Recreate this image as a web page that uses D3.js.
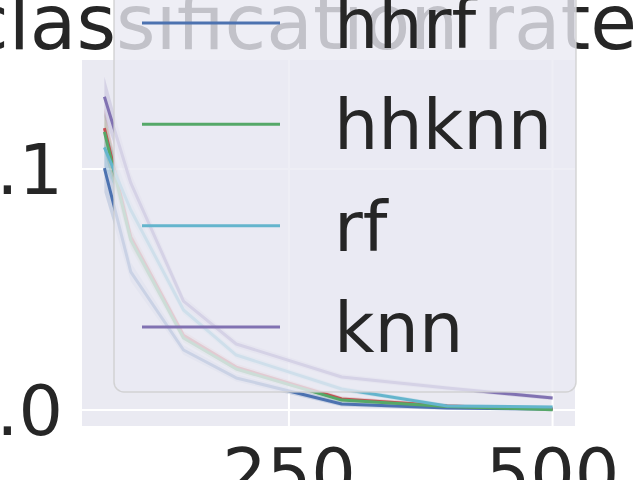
<!DOCTYPE html>
<html>
<head>
<meta charset="utf-8">
<script src="https://cdn.jsdelivr.net/npm/d3@7"></script>
<style>
  html, body { margin: 0; padding: 0; background: #ffffff; }
  svg { display: block; font-family: "DejaVu Sans", sans-serif; }
</style>
</head>
<body>
<svg id="chart" width="640" height="480"></svg>
<script>
// ---- data ----
const xValues = [75, 100, 150, 200, 300, 400, 500];
const hhrfValues  = [0.1004, 0.0573, 0.0249, 0.0133, 0.0025, 0.0008, 0.0004];
const otherValues = [0.1170, 0.0718, 0.0310, 0.0178, 0.0046, 0.0017, 0.0004];
const hhknnValues = [0.1154, 0.0705, 0.0299, 0.0170, 0.0041, 0.0015, 0.0001];
const rfValues    = [0.1090, 0.0830, 0.0415, 0.0228, 0.0087, 0.0017, 0.0012];
const knnValues   = [0.1300, 0.0942, 0.0452, 0.0274, 0.0137, 0.0091, 0.0050];
// half-widths of the shaded error bands
const hhrfErr  = [0.0100, 0.0040, 0.0020, 0.0015, 0.0010, 0.0008, 0.0006];
const otherErr = [0.0080, 0.0035, 0.0018, 0.0014, 0.0010, 0.0008, 0.0006];
const hhknnErr = [0.0080, 0.0035, 0.0018, 0.0014, 0.0010, 0.0008, 0.0006];
const rfErr    = [0.0080, 0.0035, 0.0018, 0.0014, 0.0010, 0.0008, 0.0006];
const knnErr   = [0.0083, 0.0040, 0.0020, 0.0015, 0.0012, 0.0010, 0.0008];
const seriesLabels = ["hhrf", null, "hhknn", "rf", "knn"];
const seriesColors = ["#4C72B0", "#C44E52", "#55A868", "#64B5CD", "#8172B2"];
const xTicks = [250, 500];
const yTicks = [0.0, 0.1];
const titleText = "classification rate";

const seriesValues = [hhrfValues, otherValues, hhknnValues, rfValues, knnValues];
const seriesErr = [hhrfErr, otherErr, hhknnErr, rfErr, knnErr];
const series = seriesLabels.map((label, i) => ({
  label, color: seriesColors[i],
  points: xValues.map((x, j) => ({ x, y: seriesValues[i][j], e: seriesErr[i][j] }))
}));

// ---- layout ----
const svg = d3.select("#chart");
const plot = { left: 82, right: 575, top: 60, bottom: 426 };
const FS = 70;
const TITLE_FS = 76;
const textColor = "#262626";

const x = d3.scaleLinear().domain([53.75, 521.25]).range([plot.left, plot.right]);
const y = d3.scaleLinear().domain([-0.00664, 0.14523]).range([plot.bottom, plot.top]);

// axes background
svg.append("rect")
  .attr("x", plot.left).attr("y", plot.top)
  .attr("width", plot.right - plot.left).attr("height", plot.bottom - plot.top)
  .attr("fill", "#EAEAF2");

svg.append("clipPath").attr("id", "plotclip").append("rect")
  .attr("x", plot.left).attr("y", plot.top)
  .attr("width", plot.right - plot.left).attr("height", plot.bottom - plot.top);

// grid
const grid = svg.append("g");
grid.selectAll("line.gx").data(xTicks).join("line")
  .attr("x1", d => x(d)).attr("x2", d => x(d))
  .attr("y1", plot.top).attr("y2", plot.bottom)
  .attr("stroke", "#ffffff").attr("stroke-width", 2);
grid.selectAll("line.gy").data(yTicks).join("line")
  .attr("x1", plot.left).attr("x2", plot.right)
  .attr("y1", d => y(d)).attr("y2", d => y(d))
  .attr("stroke", "#ffffff").attr("stroke-width", 2);

// bands and lines
const gData = svg.append("g").attr("clip-path", "url(#plotclip)");
const area = d3.area().x(d => x(d.x)).y0(d => y(d.y - d.e)).y1(d => y(d.y + d.e));
const line = d3.line().x(d => x(d.x)).y(d => y(d.y));
series.forEach(s => {
  gData.append("path").attr("d", area(s.points))
    .attr("fill", s.color).attr("fill-opacity", 0.2).attr("stroke", "none");
});
series.forEach(s => {
  gData.append("path").attr("d", line(s.points))
    .attr("fill", "none").attr("stroke", s.color).attr("stroke-width", 3)
    .attr("stroke-linejoin", "round").attr("stroke-linecap", "butt");
});

// tick labels
svg.append("g").selectAll("text").data(yTicks).join("text")
  .attr("x", 63).attr("y", d => y(d))
  .attr("dy", "0.36em")
  .attr("text-anchor", "end")
  .attr("font-size", FS).attr("fill", textColor)
  .text(d => d3.format(".1f")(d));
svg.append("g").selectAll("text").data(xTicks).join("text")
  .attr("x", d => x(d)).attr("y", 498)
  .attr("text-anchor", "middle")
  .attr("font-size", FS).attr("fill", textColor)
  .text(d => d3.format("d")(d));

// title
svg.append("text")
  .attr("x", 302).attr("y", 49)
  .attr("text-anchor", "middle")
  .attr("font-size", TITLE_FS).attr("fill", textColor)
  .text(titleText);

// legend
const legendItems = series.filter(s => s.label !== null);
const leg = svg.append("g");
leg.append("rect")
  .attr("x", 114).attr("y", -80)
  .attr("width", 462).attr("height", 472)
  .attr("rx", 10).attr("ry", 10)
  .attr("fill", "#EAEAF2").attr("fill-opacity", 0.8)
  .attr("stroke", "#CCCCCC").attr("stroke-opacity", 0.8).attr("stroke-width", 1.5);
const rowY = d3.scaleLinear().domain([0, legendItems.length - 1]).range([48, 352]);
legendItems.forEach((s, i) => {
  const by = rowY(i);
  leg.append("line")
    .attr("x1", 142).attr("x2", 280)
    .attr("y1", by - 25).attr("y2", by - 25)
    .attr("stroke", s.color).attr("stroke-width", 3);
  leg.append("text")
    .attr("x", 334).attr("y", by)
    .attr("font-size", FS).attr("fill", textColor)
    .text(s.label);
});
</script>
</body>
</html>
